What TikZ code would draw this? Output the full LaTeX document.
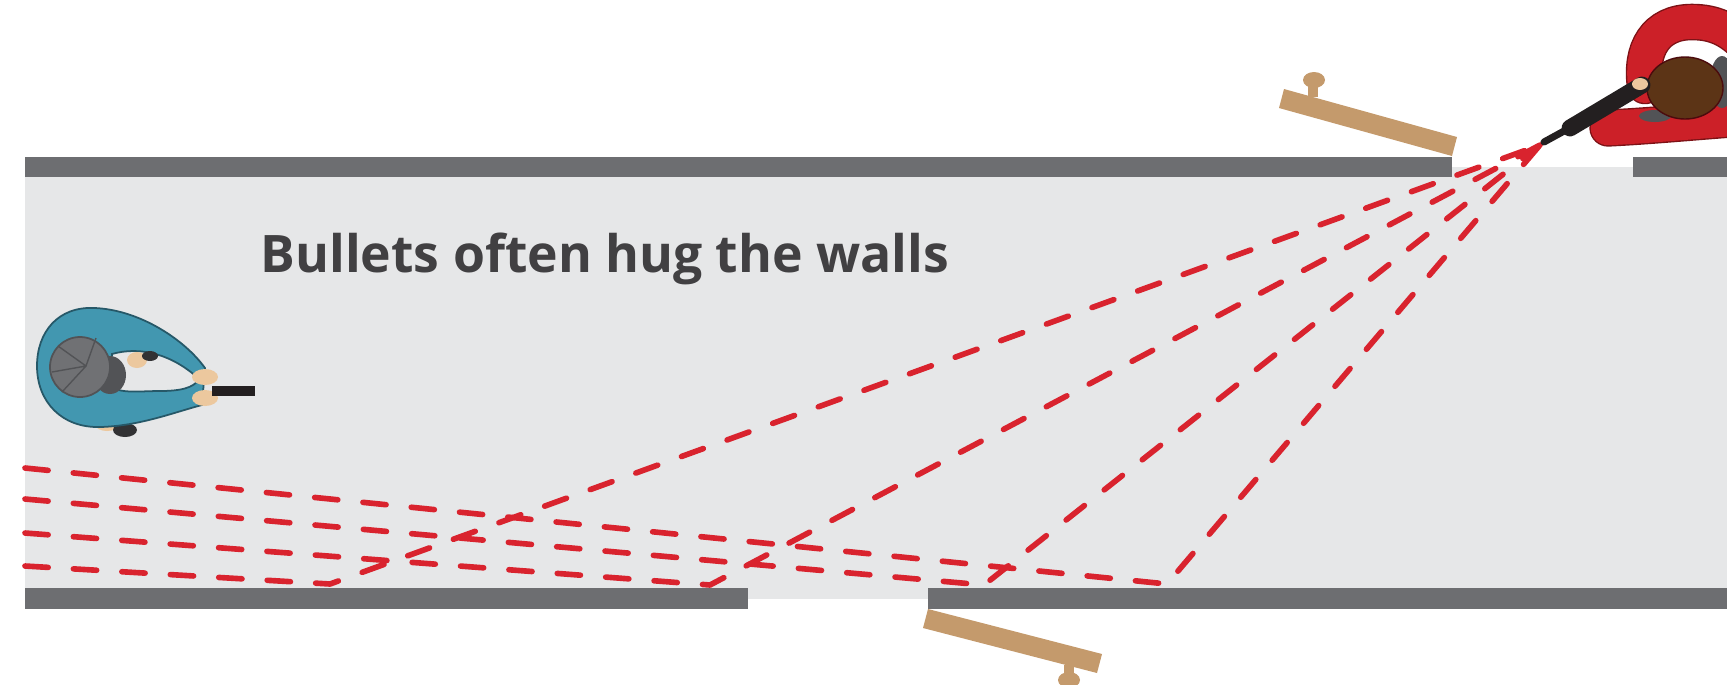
\documentclass[tikz,border=0pt]{standalone}
\usepackage{fontspec}
\setmainfont{Open Sans}
\usepackage{tikz}
\definecolor{floorgray}{RGB}{230,231,232}
\definecolor{wallgray}{RGB}{109,110,113}
\definecolor{textgray}{RGB}{65,64,66}
\definecolor{doortan}{RGB}{196,154,108}
\definecolor{shotred}{RGB}{217,35,46}
\definecolor{jacketblue}{RGB}{66,151,176}
\definecolor{jacketline}{RGB}{38,88,104}
\definecolor{capgray}{RGB}{112,113,116}
\definecolor{brimgray}{RGB}{82,83,86}
\definecolor{skin}{RGB}{236,200,158}
\definecolor{shoedark}{RGB}{50,50,52}
\definecolor{jacketred}{RGB}{204,32,40}
\definecolor{redline}{RGB}{125,18,22}
\definecolor{hairbrown}{RGB}{92,52,22}
\definecolor{gunblack}{RGB}{35,31,32}

\begin{document}
\begin{tikzpicture}[x=0.01cm, y=-0.01cm,
  wall/.style={fill=wallgray},
  door/.style={fill=doortan},
  bullet/.style={draw=shotred, line width=1.6pt, dash pattern=on 6.6pt off 7.2pt, line cap=round, line join=round},
  arm/.style={line cap=round}]
  \clip (0,0) rectangle (1727,684);
  % corridor floor and walls
  \fill[floorgray] (25,167) rectangle (1727,599);
  \fill[wall] (25,157) rectangle (1452,177);
  \fill[wall] (1633,157) rectangle (1727,177);
  \fill[wall] (25,588) rectangle (748,609);
  \fill[wall] (928,588) rectangle (1727,609);
  % open doors with knobs
  \fill[door] (1452,156) -- (1279,108) -- (1284,89) -- (1457,137) -- cycle;
  \fill[door] (1308,84) rectangle (1318,97);
  \fill[door] (1314,80) ellipse [x radius=11, y radius=8];
  \fill[door] (928,609) -- (1102,654) -- (1097,673) -- (923,628) -- cycle;
  \fill[door] (1064,665) rectangle (1074,676);
  \fill[door] (1069,680) ellipse [x radius=11, y radius=8];
  % caption
  \node[anchor=base west, inner sep=0pt, text=textgray, font=\fontsize{14.7}{18}\selectfont\bfseries] (caption) at (260,272) {Bullets often hug the walls};
  % shot paths: along the wall, hit on the wall, back to the muzzle
  \coordinate (muzzle) at (1540,145);
  \coordinate (hit1) at (330,584);  \coordinate (end1) at (25,566);
  \coordinate (hit2) at (710,585);  \coordinate (end2) at (25,533);
  \coordinate (hit3) at (984,585);  \coordinate (end3) at (25,499);
  \coordinate (hit4) at (1167,584); \coordinate (end4) at (25,468);
  \foreach \n in {1,...,4}
    \draw[bullet] (end\n) -- (hit\n) -- (muzzle);
  % shooter on the left
  \fill[skin] (107,424) ellipse [x radius=12, y radius=7];
  \fill[shoedark] (125,430) ellipse [x radius=12, y radius=7];
  \filldraw[fill=jacketblue, draw=jacketline, line width=0.5pt]
    (205,368) .. controls (185,340) and (140,310) .. (95,308)
    .. controls (58,306) and (37,332) .. (37,366)
    .. controls (37,402) and (62,428) .. (100,427)
    .. controls (140,426) and (175,412) .. (202,405) -- cycle;
  \filldraw[fill=floorgray, draw=jacketline, line width=0.5pt]
    (112,354) .. controls (140,346) and (172,354) .. (199,379)
    .. controls (194,388) and (180,391) .. (160,391)
    .. controls (140,391) and (120,394) .. (110,386) -- cycle;
  \fill[skin] (137,360) ellipse [x radius=10, y radius=8];
  \fill[shoedark] (150,356) ellipse [x radius=8, y radius=5];
  \fill[brimgray] (110,375) ellipse [x radius=16, y radius=19];
  \filldraw[fill=capgray, draw=brimgray, line width=0.5pt] (80,367) circle [radius=30];
  \draw[brimgray, line width=0.4pt] (86,366) -- (58,346) (86,366) -- (62,392) (86,366) -- (96,338) (86,366) -- (52,372);
  \fill[skin] (205,377) ellipse [x radius=13, y radius=8];
  \fill[skin] (205,398) ellipse [x radius=13, y radius=8];
  \fill[gunblack] (212,386) rectangle (255,396);
  % shooter in the doorway
  \draw[arm, redline, line width=10.4pt] (1645,86) .. controls (1640,50) and (1655,22) .. (1692,22) .. controls (1715,22) and (1730,30) .. (1745,45);
  \draw[arm, redline, line width=10.6pt] (1608,128) .. controls (1650,126) and (1690,122) .. (1745,118);
  \draw[arm, jacketred, line width=9.6pt] (1645,86) .. controls (1640,50) and (1655,22) .. (1692,22) .. controls (1715,22) and (1730,30) .. (1745,45);
  \draw[arm, jacketred, line width=9.8pt] (1608,128) .. controls (1650,126) and (1690,122) .. (1745,118);
  \fill[white] (1668,63) -- (1682,48) -- (1697,63) -- cycle;
  \fill[brimgray] (1722,82) ellipse [x radius=12, y radius=26];
  \fill[brimgray] (1655,116) ellipse [x radius=16, y radius=6];
  \filldraw[fill=hairbrown, draw=redline!60!black, line width=0.4pt] (1685,88) ellipse [x radius=38, y radius=31];
  \draw[arm, gunblack, line width=2pt] (1544,142) -- (1575,125);
  \draw[arm, gunblack, line width=4.8pt] (1570,128) -- (1642,85);
  \fill[skin] (1640,84) ellipse [x radius=8, y radius=6];
\end{tikzpicture}
\end{document}
